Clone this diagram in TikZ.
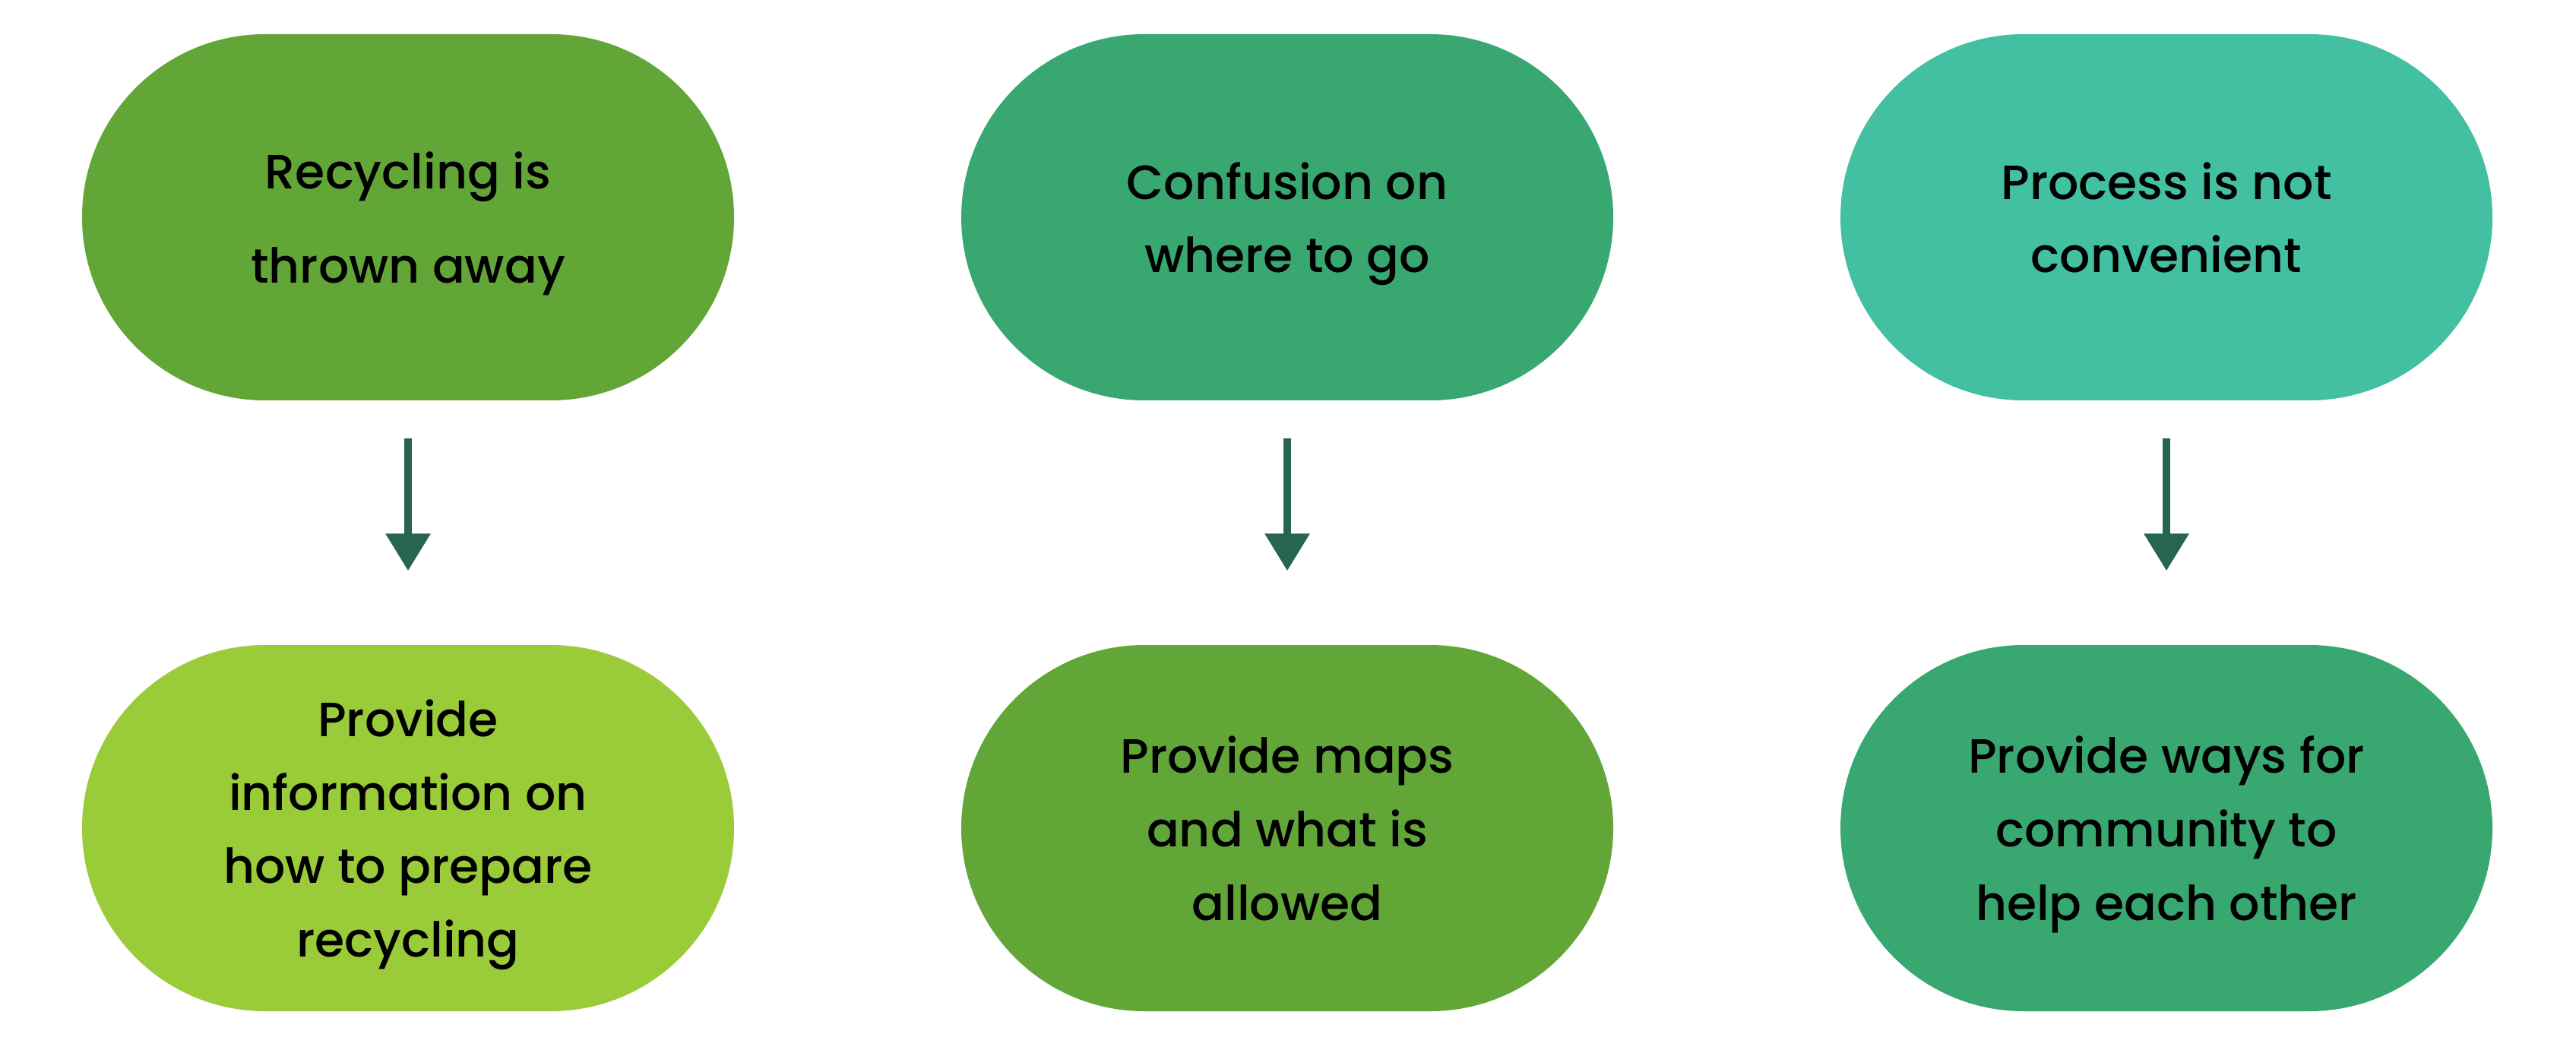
\documentclass[tikz,border=0pt]{standalone}
\usepackage{fontspec}
\setmainfont{Poppins}[UprightFont=* Medium]
\usepackage{xcolor}
\usetikzlibrary{arrows.meta}
\definecolor{leafgreen}{HTML}{63A638}
\definecolor{seagreen}{HTML}{38A870}
\definecolor{mintgreen}{HTML}{43C0A1}
\definecolor{limegreen}{HTML}{9ACB39}
\definecolor{arrowgreen}{HTML}{276452}

\begin{document}
\begin{tikzpicture}[
  pill/.style={rectangle, rounded corners=2.41cm, minimum width=8.58cm, minimum height=4.82cm,
    inner sep=0pt, align=center, text=black, text depth=0pt, font=\fontsize{18}{27.5}\selectfont},
  flow/.style={arrowgreen, line width=0.1cm, -{Triangle[width=0.57cm,length=0.49cm]},
    shorten <=0.49cm, shorten >=0.97cm}]
\useasboundingbox (0,0) rectangle (33.9,13.85);
% problems
\node[pill, fill=leafgreen, font=\fontsize{18}{35.2}\selectfont] (thrown) at (5.37,10.99) {Recycling is\\thrown away};
\node[pill, fill=seagreen] (confusion) at (16.94,10.99) {Confusion on\\where to go};
\node[pill, fill=mintgreen] (process) at (28.51,10.99) {Process is not\\convenient};
% solutions
\node[pill, fill=limegreen] (inform) at (5.37,2.95) {Provide\\information on\\how to prepare\\recycling};
\node[pill, fill=leafgreen] (maps) at (16.94,2.95) {Provide maps\\and what is\\allowed};
\node[pill, fill=seagreen] (help) at (28.51,2.95) {Provide ways for\\community to\\help each other};
% arrows
\draw[flow] (thrown) -- (inform);
\draw[flow] (confusion) -- (maps);
\draw[flow] (process) -- (help);
\end{tikzpicture}
\end{document}
